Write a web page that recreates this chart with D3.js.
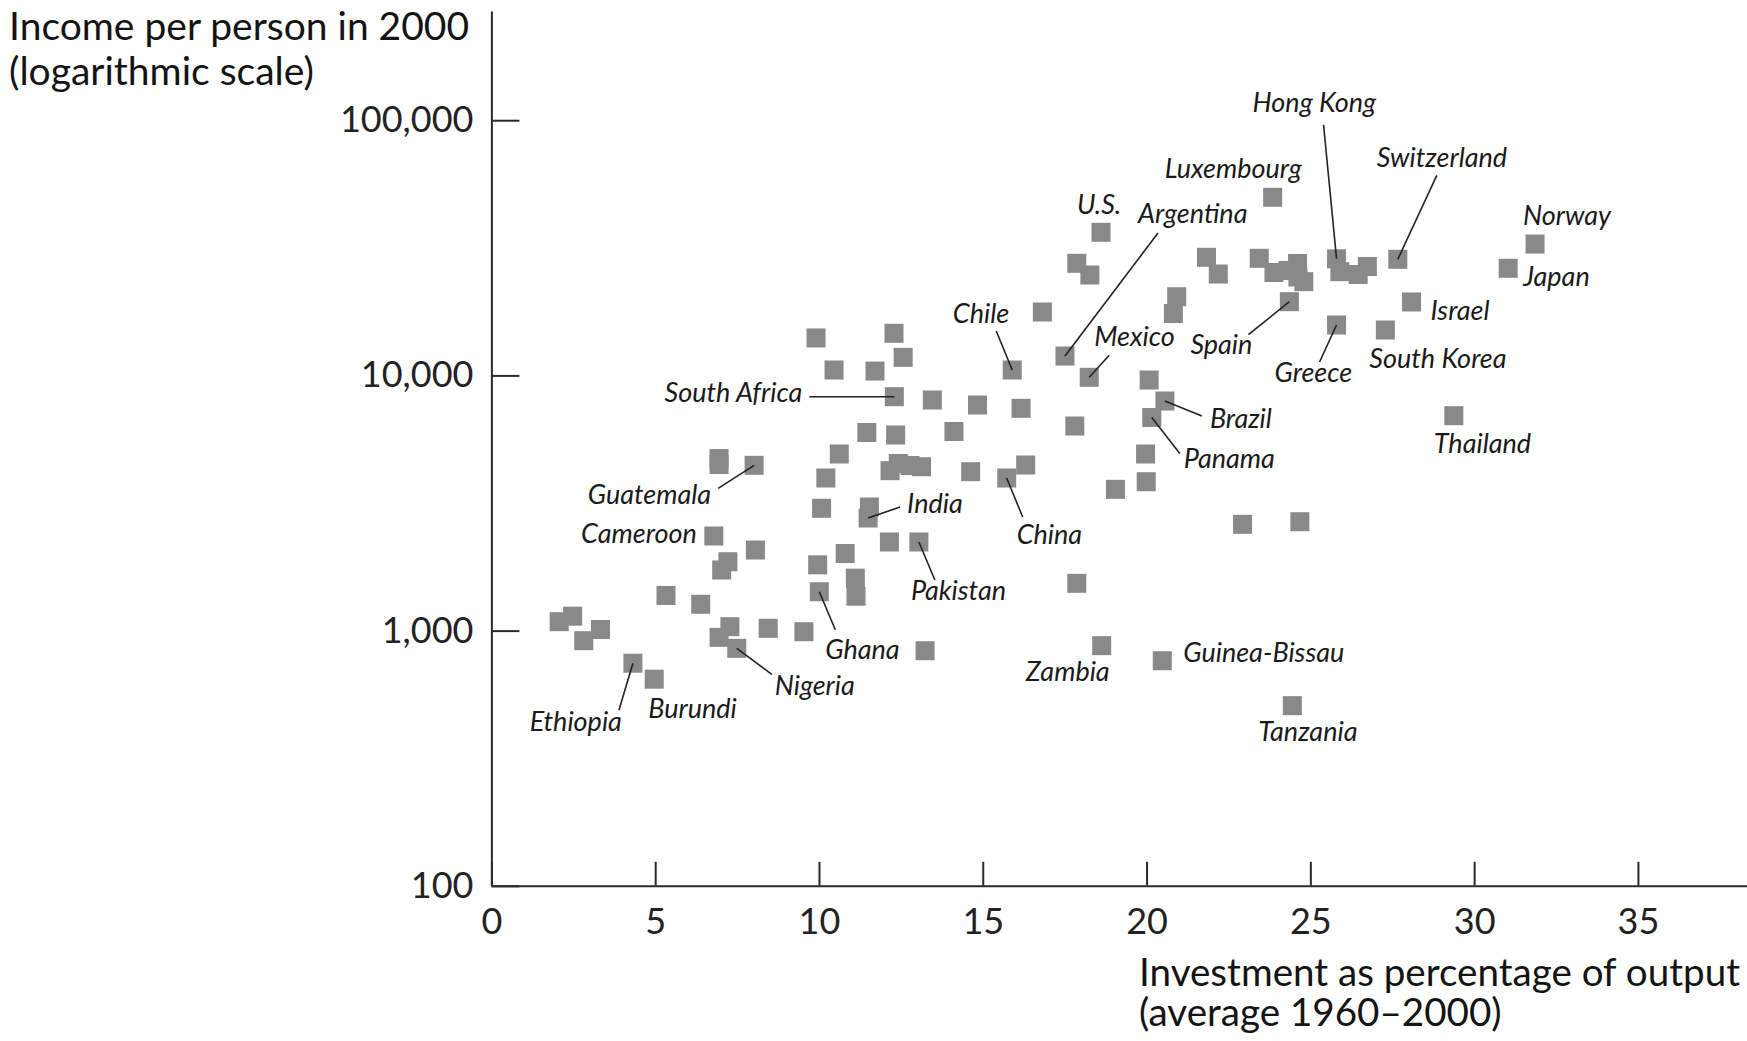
<!DOCTYPE html>
<meta charset="utf-8">
<style>

    body {
        margin: 0;
        background: #fff;
    }

    .axis path,
    .axis line {
        fill: none;
        stroke: #2a2a2a;
        stroke-width: 2px;
    }

    .axis text {
        font: 36px Lato, sans-serif;
        fill: #222;
    }

    .title {
        font: 39px Lato, sans-serif;
        fill: #141414;
    }

    .title.x {
        font-size: 38.6px;
    }

    .dot {
        fill: #898989;
    }

    .label {
        font: italic 27px Lato, sans-serif;
        fill: #1a1a1a;
    }

    .leader {
        stroke: #222;
        stroke-width: 1.6px;
    }

</style>
<svg></svg>
<script src="https://d3js.org/d3.v7.min.js"></script>
<script>

    var width = 1747,
        height = 1041;

    // investment as % of output (avg 1960-2000), income per person in 2000
    var names = [
        "", "", "", "", "Ethiopia", "Burundi", "", "", "Cameroon", "",
        "", "Guatemala", "", "", "", "", "", "Nigeria", "", "",
        "Ghana", "", "", "", "", "", "Pakistan", "", "", "",
        "India", "", "", "", "", "", "", "", "China", "",
        "", "", "", "South Africa", "", "", "", "", "", "",
        "", "", "Chile", "", "Argentina", "Mexico", "", "", "Zambia", "Guinea-Bissau",
        "Tanzania", "", "", "", "Panama", "Brazil", "", "", "", "U.S.",
        "", "", "", "", "Luxembourg", "", "", "", "", "",
        "", "Spain", "Hong Kong", "", "", "", "Greece", "Switzerland", "South Korea", "Israel",
        "Japan", "Norway", "Thailand", "", ""
    ];

    var investment = [
        2.07, 2.48, 2.82, 3.33, 4.32, 4.97, 5.33, 6.39, 6.79, 6.95,
        6.95, 8.02, 7.22, 7.03, 8.06, 7.28, 6.95, 7.49, 8.45, 9.54,
        10.01, 9.96, 10.80, 11.11, 11.13, 12.15, 13.05, 13.24, 10.08, 11.54,
        11.50, 10.21, 10.62, 12.17, 12.42, 12.78, 13.13, 14.63, 15.73, 16.31,
        11.46, 12.34, 14.12, 12.30, 13.46, 14.84, 16.17, 9.91, 12.29, 12.57,
        10.46, 11.71, 15.90, 16.82, 17.51, 18.25, 17.81, 17.87, 18.63, 20.48,
        24.45, 19.05, 19.99, 19.97, 20.16, 20.56, 20.08, 20.92, 20.82, 18.61,
        17.87, 18.27, 21.83, 22.19, 23.85, 23.44, 23.89, 24.32, 24.61, 24.62,
        24.80, 24.36, 25.80, 25.90, 26.46, 26.74, 25.80, 27.67, 27.29, 28.09,
        31.04, 31.86, 29.38, 22.93, 24.68
    ];

    var income = [
        1084, 1139, 913, 1010, 745, 645, 1373, 1268, 2348, 4724,
        4477, 4443, 1862, 1728, 2069, 1036, 941, 852, 1021, 990,
        1420, 1810, 2005, 1605, 1364, 2225, 2225, 834, 3015, 3050,
        2762, 3963, 4920, 4233, 4516, 4436, 4388, 4195, 3963, 4456,
        5975, 5842, 6029, 8253, 8010, 7656, 7430, 14020, 14620, 11770,
        10500, 10400, 10500, 17720, 11910, 9830, 6335, 1532, 873, 762,
        508, 3578, 3832, 4920, 6842, 7938, 9594, 20340, 17480, 36370,
        27500, 24740, 29030, 24960, 49880, 28770, 25310, 25770, 27450, 24300,
        23300, 19450, 28640, 25500, 24850, 26720, 15760, 28510, 15060, 19400,
        26290, 32720, 6953, 2609, 2671
    ];

    var xTicks = [0, 5, 10, 15, 20, 25, 30, 35],
        yTicks = [100, 1000, 10000, 100000];

    // where each country name sits, relative to its square (px)
    var notes = {
        "Guatemala":     {dx: -43, dy: 39, anchor: "end", line: [-36, 23]},
        "Cameroon":      {dx: -17, dy: 7, anchor: "end"},
        "India":         {dx: 39, dy: -5, anchor: "start", line: [32, -11]},
        "Pakistan":      {dx: -8, dy: 58, anchor: "start", line: [16, 38]},
        "Ghana":         {dx: 6, dy: 67, anchor: "start", line: [16, 38]},
        "Nigeria":       {dx: 38, dy: 47, anchor: "start", line: [35, 26]},
        "Burundi":       {dx: -6, dy: 39, anchor: "start"},
        "Ethiopia":      {dx: -11, dy: 68, anchor: "end", line: [-14, 47]},
        "South Africa":  {dx: -92, dy: 5, anchor: "end", line: [-85, 0]},
        "Chile":         {dx: -3, dy: -47, anchor: "end", line: [-16, -39]},
        "China":         {dx: 10, dy: 66, anchor: "start", line: [16, 39]},
        "Argentina":     {dx: 73, dy: -133, anchor: "start", line: [93, -123]},
        "U.S.":          {dx: -24, dy: -18, anchor: "start"},
        "Mexico":        {dx: 5, dy: -31, anchor: "start", line: [20, -22]},
        "Luxembourg":    {dx: -108, dy: -19, anchor: "start"},
        "Hong Kong":     {dx: -84, dy: -147, anchor: "start", line: [-13, -134]},
        "Switzerland":   {dx: -21, dy: -92, anchor: "start", line: [39, -84]},
        "Norway":        {dx: -12, dy: -19, anchor: "start"},
        "Japan":         {dx: 15, dy: 18, anchor: "start"},
        "Israel":        {dx: 19, dy: 18, anchor: "start"},
        "South Korea":   {dx: -16, dy: 38, anchor: "start"},
        "Greece":        {dx: -62, dy: 57, anchor: "start", line: [-17, 37]},
        "Spain":         {dx: -99, dy: 52, anchor: "start", line: [-41, 33]},
        "Thailand":      {dx: -20, dy: 37, anchor: "start"},
        "Brazil":        {dx: 45, dy: 27, anchor: "start", line: [37, 15]},
        "Panama":        {dx: 32, dy: 51, anchor: "start", line: [28, 36]},
        "Zambia":        {dx: 8, dy: 35, anchor: "end"},
        "Guinea-Bissau": {dx: 21, dy: 1, anchor: "start"},
        "Tanzania":      {dx: -34, dy: 35, anchor: "start"}
    };

    var data = investment.map(function(v, i) {
        return {name: names[i], x: v, y: income[i]};
    });

    var svg = d3.select("svg")
        .attr("width", width)
        .attr("height", height);

    var x = d3.scaleLinear()
        .domain([0, 38.33])
        .range([491.4, 1747]);

    var y = d3.scaleLog()
        .domain([100, 267900])
        .range([885.8, 11]);

    var fmt = d3.format(",");

    svg.append("g")
        .attr("class", "axis")
        .attr("transform", "translate(0," + y(100) + ")")
        .call(d3.axisBottom(x)
            .tickValues(xTicks)
            .tickSizeInner(-24)
            .tickSizeOuter(0)
            .tickPadding(23));

    svg.append("g")
        .attr("class", "axis")
        .attr("transform", "translate(" + x(0) + ",0)")
        .call(d3.axisLeft(y)
            .tickValues(yTicks)
            .tickFormat(fmt)
            .tickSizeInner(-28)
            .tickSizeOuter(0)
            .tickPadding(18));

    var size = 19;

    svg.append("g")
        .selectAll("rect")
        .data(data)
        .enter().append("rect")
        .attr("class", "dot")
        .attr("x", function(d) { return x(d.x) - size / 2; })
        .attr("y", function(d) { return y(d.y) - size / 2; })
        .attr("width", size)
        .attr("height", size);

    var labelled = data.filter(function(d) { return notes[d.name]; });

    svg.append("g")
        .selectAll("line")
        .data(labelled.filter(function(d) { return notes[d.name].line; }))
        .enter().append("line")
        .attr("class", "leader")
        .attr("x1", function(d) { return x(d.x); })
        .attr("y1", function(d) { return y(d.y); })
        .attr("x2", function(d) { return x(d.x) + notes[d.name].line[0]; })
        .attr("y2", function(d) { return y(d.y) + notes[d.name].line[1]; });

    svg.append("g")
        .selectAll("text")
        .data(labelled)
        .enter().append("text")
        .attr("class", "label")
        .attr("x", function(d) { return x(d.x) + notes[d.name].dx; })
        .attr("y", function(d) { return y(d.y) + notes[d.name].dy; })
        .attr("text-anchor", function(d) { return notes[d.name].anchor; })
        .text(function(d) { return d.name; });

    // axis titles, one text per line
    svg.append("text").attr("class", "title")
        .attr("x", 9).attr("y", 40)
        .text("Income per person in 2000");
    svg.append("text").attr("class", "title")
        .attr("x", 9).attr("y", 85)
        .text("(logarithmic scale)");

    svg.append("text").attr("class", "title x")
        .attr("x", 1139).attr("y", 986)
        .text("Investment as percentage of output");
    svg.append("text").attr("class", "title x")
        .attr("x", 1139).attr("y", 1026)
        .text("(average 1960\u20132000)");

</script>
